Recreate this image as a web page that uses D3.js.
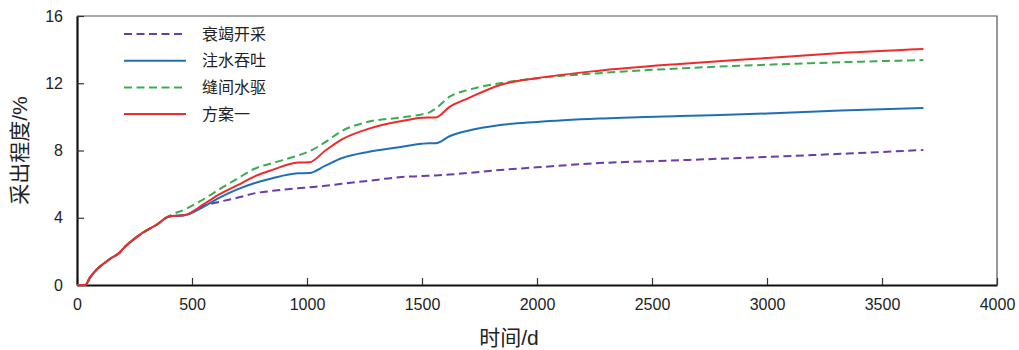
<!DOCTYPE html>
<html>
<head>
<meta charset="utf-8">
<script src="https://cdn.jsdelivr.net/npm/d3@7"></script>
<style>
body{margin:0;background:#fff}
text{font-family:"Liberation Sans","Noto Sans CJK SC",sans-serif;fill:#222}
</style>
</head>
<body>
<div class="chart"></div>
<script>
// days shared by all series
const days=[0,35,57,91,114,143,187,200,274,348,400,470,550,620,700,770,850,960,1010,1080,1150,1270,1400,1500,1530,1560,1620,1700,1840,2000,2270,2620,3000,3320,3680]

const depletion=[0,0,0.45,1.0,1.25,1.55,1.95,2.15,3.0,3.6,4.08,4.16,4.7,4.95,5.2,5.45,5.6,5.75,5.81,5.9,6.02,6.2,6.41,6.48,6.5,6.52,6.57,6.66,6.84,7.0,7.25,7.42,7.62,7.8,8.03]
const huffPuff=[0,0,0.45,1.0,1.25,1.55,1.95,2.15,3.0,3.6,4.08,4.16,4.65,5.2,5.7,6.05,6.35,6.64,6.66,7.1,7.54,7.93,8.2,8.4,8.43,8.43,8.85,9.18,9.52,9.7,9.9,10.05,10.2,10.38,10.53]
const fracFlood=[0,0,0.45,1.0,1.25,1.55,1.95,2.15,3.0,3.6,4.1,4.5,5.1,5.7,6.35,6.9,7.25,7.7,7.95,8.5,9.15,9.72,9.95,10.15,10.25,10.5,11.2,11.6,12.0,12.3,12.6,12.88,13.1,13.25,13.38]
const plan1=[0,0,0.45,1.0,1.25,1.55,1.95,2.15,3.0,3.6,4.08,4.16,4.8,5.4,5.95,6.45,6.85,7.28,7.3,8.0,8.65,9.3,9.72,9.95,9.97,9.97,10.6,11.1,11.9,12.3,12.75,13.15,13.5,13.8,14.04]

const names=['衰竭开采','注水吞吐','缝间水驱','方案一']
const colors=['#6a3ca8','#1f6fb8','#3aab52','#ee2a2a']
const dashes=['8,4.5',null,'8,4.5',null]
const series=[depletion,huffPuff,fracFlood,plan1]

const xTicks=[0,500,1000,1500,2000,2500,3000,3500,4000]
const yTicks=[0,4,8,12,16]

const W=1019,H=350
const margin={top:16,right:22,bottom:65,left:77}
const width=W-margin.left-margin.right,
      height=H-margin.top-margin.bottom

const svg=d3.select('.chart').append('svg')
    .attr('width',W)
    .attr('height',H)
    .append('g')
    .attr('transform','translate('+margin.left+','+margin.top+')')

const x=d3.scaleLinear().domain([0,4000]).range([0,width])
const y=d3.scaleLinear().domain([0,16]).range([height,0])

// box
svg.append('path')
    .attr('d',`M0,0H${width}V${height}`)
    .attr('fill','none')
    .attr('stroke','#555')
    .attr('stroke-width',1.2)

const xAxis=d3.axisBottom(x).tickValues(xTicks).tickFormat(d3.format('d'))
    .tickSizeInner(-7).tickSizeOuter(0).tickPadding(14)
const yAxis=d3.axisLeft(y).tickValues(yTicks).tickFormat(d3.format('d'))
    .tickSizeInner(-7).tickSizeOuter(0).tickPadding(14)

const gx=svg.append('g')
    .attr('transform',`translate(0,${height})`)
    .call(xAxis)
const gy=svg.append('g').call(yAxis)

;[gx,gy].forEach(g=>{
    g.select('.domain').attr('stroke','#111').attr('stroke-width',2.2)
    g.selectAll('.tick line').attr('stroke','#333').attr('stroke-width',1.2)
    g.selectAll('.tick text').attr('font-size',16).attr('fill','#222')
        .style('font-family','"Liberation Sans",sans-serif')
})

const line=d3.line()
    .x((d,i)=>x(days[i]))
    .y(d=>y(d))
    .curve(d3.curveMonotoneX)

series.forEach((s,i)=>{
    svg.append('path')
        .datum(s)
        .attr('d',line)
        .attr('fill','none')
        .attr('stroke',colors[i])
        .attr('stroke-width',2)
        .attr('stroke-dasharray',dashes[i])
})

// legend
const legend=svg.append('g')
    .attr('transform','translate(47,18)')

names.forEach((n,i)=>{
    const row=legend.append('g').attr('transform',`translate(0,${i*26.7})`)
    row.append('line')
        .attr('x1',0).attr('x2',62)
        .attr('stroke',colors[i])
        .attr('stroke-width',2)
        .attr('stroke-dasharray',dashes[i])
    row.append('text')
        .attr('x',78)
        .attr('dy','0.35em')
        .attr('font-size',16)
        .attr('fill','#333')
        .text(n)
})

svg.append('text')
    .attr('x',width/2-28)
    .attr('y',height+60)
    .attr('text-anchor','middle')
    .attr('font-size',21)
    .text('时间/d')

svg.append('text')
    .attr('transform',`translate(-50,${height/2})rotate(-90)`)
    .attr('text-anchor','middle')
    .attr('font-size',21)
    .text('采出程度/%')
</script>
</body>
</html>
